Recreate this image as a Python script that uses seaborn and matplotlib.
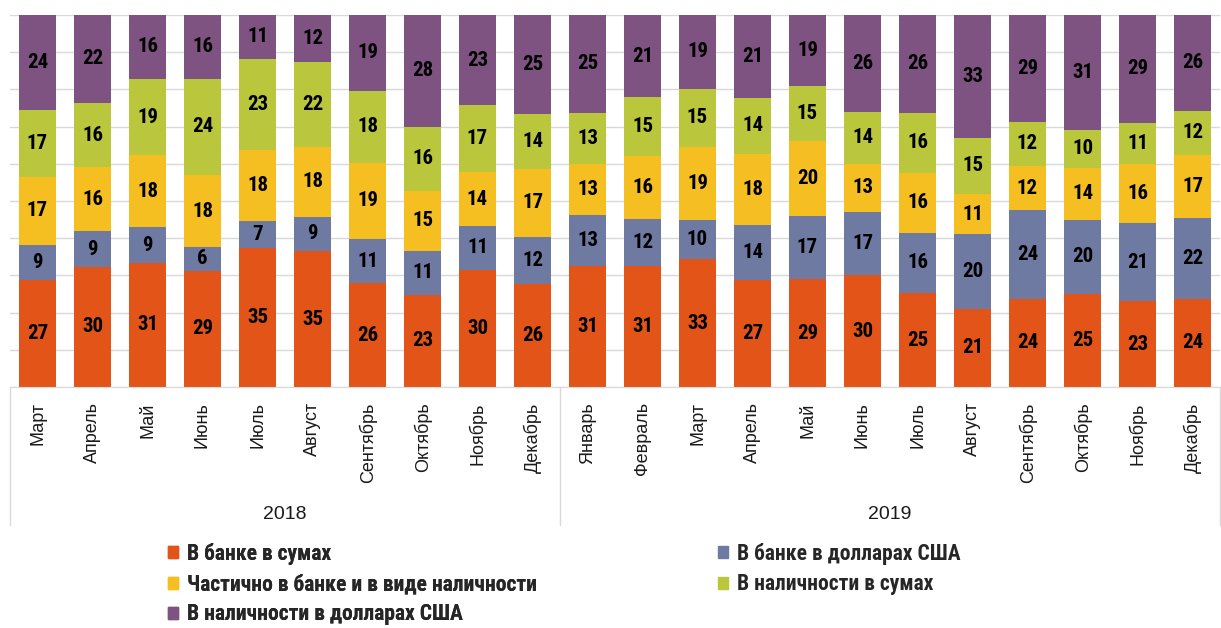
import numpy as np
import pandas as pd
import seaborn as sns
import matplotlib.pyplot as plt
import matplotlib.transforms as mtransforms
from matplotlib import font_manager as fm
from matplotlib.patches import Patch

sns.set_style('white')
plt.rcParams['font.family'] = ['Liberation Sans', 'DejaVu Sans']


def narrow_bold(size):
    # ищем узкий жирный шрифт (как Arial Narrow), иначе обычный жирный
    fams = ['Liberation Sans Narrow', 'Roboto Condensed', 'Open Sans Condensed', 'Noto Sans',
            'Roboto', 'Open Sans', 'DejaVu Sans', 'Liberation Sans']
    best = None
    for f in fm.fontManager.ttflist:
        narrow = 'Narrow' in f.name or 'Condensed' in f.name or f.stretch == 'condensed'
        if not narrow or f.style != 'normal':
            continue
        try:
            w = int(f.weight)
        except (TypeError, ValueError):
            w = 700 if 'bold' in str(f.weight) else 400
        if w < 600 or w > 800:
            continue
        rank = next((k for k, nm in enumerate(fams) if f.name.startswith(nm)), 99)
        if best is None or rank < best[0]:
            best = (rank, f.fname)
    if best is not None:
        return fm.FontProperties(fname=best[1], size=size), True
    return fm.FontProperties(family='Liberation Sans', weight='bold', size=size - 1), False


# месяцы по годам
months = ['Март', 'Апрель', 'Май', 'Июнь', 'Июль', 'Август', 'Сентябрь', 'Октябрь', 'Ноябрь', 'Декабрь',
          'Январь', 'Февраль', 'Март', 'Апрель', 'Май', 'Июнь', 'Июль', 'Август', 'Сентябрь', 'Октябрь',
          'Ноябрь', 'Декабрь']
years = ['2018'] * 10 + ['2019'] * 12

bank_sum = [27, 30, 31, 29, 35, 35, 26, 23, 30, 26, 31, 31, 33, 27, 29, 30, 25, 21, 24, 25, 23, 24]
bank_usd = [9, 9, 9, 6, 7, 9, 11, 11, 11, 12, 13, 12, 10, 14, 17, 17, 16, 20, 24, 20, 21, 22]
partly = [17, 16, 18, 18, 18, 18, 19, 15, 14, 17, 13, 16, 19, 18, 20, 13, 16, 11, 12, 14, 16, 17]
cash_sum = [17, 16, 19, 24, 23, 22, 18, 16, 17, 14, 13, 15, 15, 14, 15, 14, 16, 15, 12, 10, 11, 12]
cash_usd = [24, 22, 16, 16, 11, 12, 19, 28, 23, 25, 25, 21, 19, 21, 19, 26, 26, 33, 29, 31, 29, 26]

names = ['В банке в сумах', 'В банке в долларах США', 'Частично в банке и в виде наличности',
         'В наличности в сумах', 'В наличности в долларах США']
colors = ['#E25418', '#6F7AA2', '#F5BF22', '#BAC63B', '#7E5381']

df = pd.DataFrame({'key': [y + '-' + m for y, m in zip(years, months)]})
vals = np.array([bank_sum, bank_usd, partly, cash_sum, cash_usd], dtype=float)
shares = vals / vals.sum(axis=0)
cum = np.cumsum(shares, axis=0)
for j in range(5):
    df['c%d' % j] = cum[j]

fig = plt.figure(figsize=(12.21, 6.28), dpi=100)
ax = fig.add_axes([10 / 1221, 1 - 387 / 628, 1210 / 1221, 372 / 628])

# 100% stacked: рисуем накопленные суммы сверху вниз
for j in range(4, -1, -1):
    sns.barplot(data=df, x='key', y='c%d' % j, order=list(df['key']), color=colors[j],
                saturation=1, width=0.67, linewidth=0, errorbar=None, ax=ax)

label_font, is_narrow = narrow_bold(15)
for i in range(len(months)):
    for j in range(5):
        mid = cum[j, i] - shares[j, i] / 2
        ax.text(i, mid, '%d' % vals[j, i], ha='center', va='center',
                fontproperties=label_font, color='black')

ax.set_xlim(-0.5, len(months) - 0.5)
ax.set_ylim(0, 1)
ax.set_yticks(np.arange(0, 1.01, 0.1))
ax.yaxis.grid(True, color='#d9d9d9', lw=1)
ax.set_axisbelow(True)
ax.tick_params(axis='y', left=False, labelleft=False)
ax.set_xticks(range(len(months)))
ax.set_xticklabels(months, rotation=90, fontsize=13, color='#1a1a1a')
ax.tick_params(axis='x', length=0, pad=11)
ax.set_xlabel('')
ax.set_ylabel('')
for s in ['top', 'right', 'left']:
    ax.spines[s].set_visible(False)
ax.spines['bottom'].set_color('#d9d9d9')

trans = mtransforms.blended_transform_factory(ax.transData, ax.transAxes)
for x in [-0.5, 9.5, len(months) - 0.5]:
    ax.plot([x, x], [0, -0.372], transform=trans, color='#d9d9d9', lw=1, clip_on=False)
ax.text(4.5, -0.343, '2018', transform=trans, ha='center', va='center', fontsize=14, color='#1a1a1a')
ax.text(15.5, -0.343, '2019', transform=trans, ha='center', va='center', fontsize=14, color='#1a1a1a')

# легенда в две колонки: левая и правая отдельно
leg_font, _ = narrow_bold(15.5 if is_narrow else 14)
handles = [Patch(color=c, label=n) for c, n in zip(colors, names)]
leg_kw = dict(loc='upper left', frameon=False, borderpad=0, borderaxespad=0,
              handlelength=0.48, handleheight=0.48, handletextpad=0.4, labelspacing=0.38,
              prop=leg_font)
leg1 = fig.legend(handles=[handles[0], handles[2], handles[4]],
                  bbox_to_anchor=(168 / 1221, 1 - 543 / 628), **leg_kw)
fig.legend(handles=[handles[1], handles[3]], bbox_to_anchor=(718 / 1221, 1 - 543 / 628), **leg_kw)
fig.add_artist(leg1)

fig.savefig('out.png', dpi=100)
